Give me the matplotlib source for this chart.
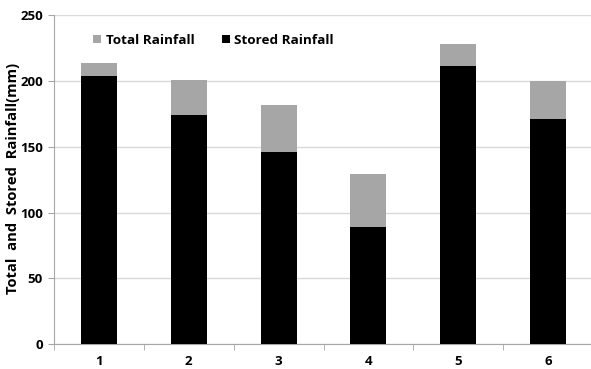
import matplotlib
matplotlib.use('Agg')
import matplotlib.pyplot as plt
import numpy as np

categories = ['1', '2', '3', '4', '5', '6']
total_rain = [214, 201, 182, 129, 228, 200]
stored_rain = [204, 174, 146, 89, 211, 171]
yticks = [0, 50, 100, 150, 200, 250]

plt.rcParams['font.family'] = ['Open Sans', 'DejaVu Sans']
plt.rcParams['font.weight'] = 'bold'

fig = plt.figure(figsize=(5.91, 3.69), dpi=100)
ax = fig.add_axes([0.0914, 0.067, 0.912, 0.892])

x = np.arange(len(categories))
w = 0.4
ax.bar(x, total_rain, w, color='#a6a6a6', label='Total Rainfall', zorder=2)
ax.bar(x, stored_rain, w, color='black', label='Stored Rainfall', zorder=3)

ax.set_xlim(-0.5, len(categories) - 0.5)
ax.set_ylim(0, 250)
ax.set_yticks(yticks)
ax.set_xticks(x)
ax.set_xticklabels(categories, fontsize=9.5, fontweight='bold')
ax.set_xticks(np.arange(-0.5, len(categories), 1), minor=True)
ax.tick_params(axis='x', which='major', length=0, pad=8)
ax.tick_params(axis='x', which='minor', length=4, color='#a6a6a6', direction='out')
ax.tick_params(axis='y', length=4, color='#a6a6a6', labelsize=9.5, pad=4)
for lbl in ax.get_yticklabels():
    lbl.set_fontweight('bold')

ax.grid(axis='y', color='#d9d9d9', linewidth=1, zorder=0)
ax.set_axisbelow(True)
for s in ['top', 'right']:
    ax.spines[s].set_visible(False)
ax.spines['left'].set_color('#a6a6a6')
ax.spines['bottom'].set_color('#a6a6a6')

ax.set_ylabel('Total  and  Stored  Rainfall(mm)', fontsize=10.6, fontweight='bold')
ax.yaxis.set_label_coords(-0.064, 0.505)

ax.legend(loc='upper left', bbox_to_anchor=(0.05, 0.98), ncol=2, frameon=False,
          fontsize=9.7, handlelength=0.6, handleheight=0.6, columnspacing=2.0,
          handletextpad=0.35)

fig.savefig('out.png', dpi=100)
